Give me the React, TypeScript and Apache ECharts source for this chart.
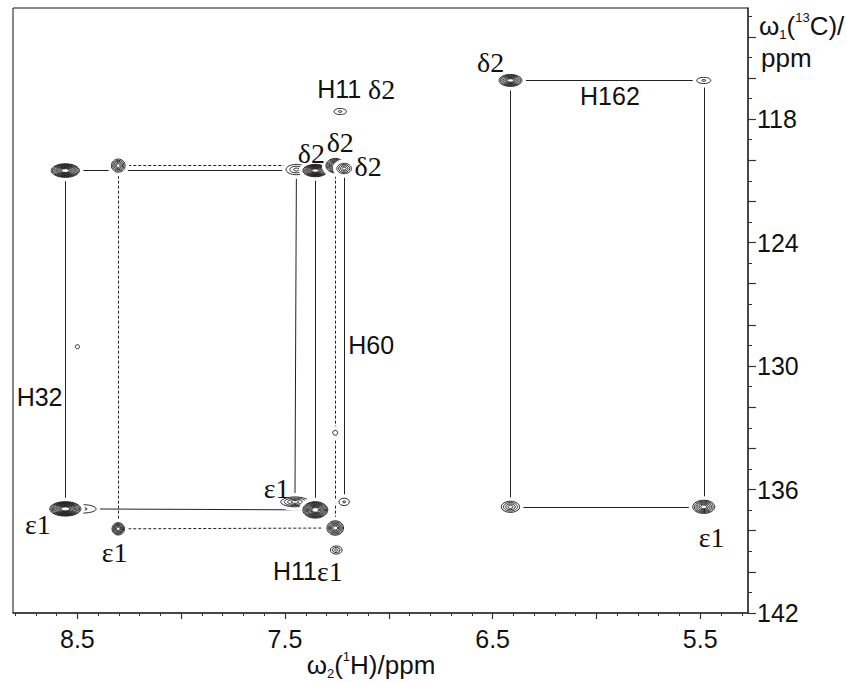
import React, { useEffect, useRef } from "react";
import * as echarts from "echarts";

// ---- Peak data (ppm) ----
const peakH = [8.558, 8.47, 8.558, 8.303, 8.303, 7.445, 7.354, 7.258, 7.215, 7.234, 7.452, 7.354, 7.215, 7.258, 7.253, 7.258, 8.5, 6.414, 5.483, 6.414, 5.483];
const peakC = [120.5, 136.94, 136.94, 120.26, 137.91, 120.45, 120.5, 120.26, 120.4, 117.63, 136.6, 136.99, 136.6, 137.87, 138.94, 133.24, 129.06, 116.12, 116.12, 136.84, 136.84];
const peakLevels = [9, 2, 10, 5, 6, 3, 9, 7, 4, 2, 4, 9, 2, 6, 3, 1, 1, 7, 2, 4, 6];
const peakWidthH = [0.068, 0.06, 0.075, 0.033, 0.03, 0.05, 0.06, 0.045, 0.035, 0.03, 0.068, 0.06, 0.025, 0.04, 0.028, 0.012, 0.01, 0.055, 0.034, 0.044, 0.053];
const peakWidthC = [0.33, 0.2, 0.35, 0.32, 0.3, 0.25, 0.3, 0.35, 0.25, 0.15, 0.24, 0.4, 0.18, 0.35, 0.2, 0.12, 0.1, 0.29, 0.15, 0.27, 0.32];

// links between peaks (indices)
const solidLinks = [[0, 2], [0, 6], [2, 11], [5, 10], [6, 11], [8, 12], [17, 18], [19, 20], [17, 19], [18, 20]];
const dashedLinks = [[3, 7], [4, 13], [3, 4], [7, 13]];

// ---- Annotation labels ----
const labelText = ["δ2", "H162", "H11 δ2", "δ2", "δ2", "δ2", "H60", "H32", "ε1", "ε1", "ε1", "H11ε1", "ε1"];
const labelH = [6.51, 5.935, 7.157, 7.373, 7.234, 7.1, 7.085, 8.682, 8.69, 8.32, 7.54, 7.39, 5.445];
const labelC = [115.25, 116.9, 116.55, 119.65, 119.15, 120.3, 128.98, 131.5, 137.7, 139.05, 135.95, 139.98, 138.35];

// ---- Axis ticks ----
const xMajorTicks = [5.5, 6.0, 6.5, 7.0, 7.5, 8.0, 8.5];
const xLabelTicks = [5.5, 6.5, 7.5, 8.5];
const yMajorTicks = [114, 116, 118, 120, 122, 124, 126, 128, 130, 132, 134, 136, 138, 140, 142];
const yLabelTicks = [118, 124, 130, 136, 142];

const X_MIN = 5.27;
const X_MAX = 8.81;
const Y_MIN = 112.6;
const Y_MAX = 142;

const SANS = "Liberation Sans";
const SERIF = "Liberation Serif";

function minorTicks(min: number, max: number, step: number, skip: number[]) {
  const out: number[] = [];
  const start = Math.ceil(min / step - 1e-9);
  const end = Math.floor(max / step + 1e-9);
  for (let k = start; k <= end; k++) {
    const v = Math.round(k * step * 1000) / 1000;
    if (!skip.some((s) => Math.abs(s - v) < 1e-6)) out.push(v);
  }
  return out;
}

function richLabel(t: string) {
  const m = t.match(/^(H\d+)(\s*)([δε]\d)$/);
  if (m) return `{s|${m[1]}}${m[2] ? "{s| }" : ""}{g|${m[3]}}`;
  if (/^[δε]/.test(t)) return `{g|${t}}`;
  return `{s|${t}}`;
}

const titleRich = {
  a: { fontFamily: SANS, fontSize: 26, fill: "#111", verticalAlign: "middle", lineHeight: 30 },
  sub: { fontFamily: SANS, fontSize: 13, fill: "#111", verticalAlign: "bottom", lineHeight: 30 },
  sup: { fontFamily: SANS, fontSize: 13, fill: "#111", verticalAlign: "top", lineHeight: 30 },
};

export default function App() {
  const ref = useRef<HTMLDivElement>(null);
  useEffect(() => {
    document.body.style.margin = "0";
    if (!ref.current) return;
    const chart = echarts.init(ref.current, undefined, { renderer: "svg" });

    const peakData = peakH.map((h, i) => [h, peakC[i], peakWidthH[i], peakWidthC[i], peakLevels[i]]);
    const linkData = (links: number[][]) =>
      links.map(([a, b]) => ({ coords: [[peakH[a], peakC[a]], [peakH[b], peakC[b]]] }));
    const labelData = labelH.map((h, i) => [h, labelC[i]]);

    const xMinor = minorTicks(X_MIN, X_MAX, 0.1, xMajorTicks);
    const yMinor = minorTicks(Y_MIN, Y_MAX, 1, yMajorTicks);

    const tickColor = "#333";

    chart.setOption({
      animation: false,
      backgroundColor: "#fff",
      grid: {
        left: 13,
        right: 98,
        top: 8,
        bottom: 69,
        show: true,
        borderColor: "#111",
        borderWidth: 1,
        backgroundColor: "transparent",
      },
      xAxis: [
        {
          type: "value",
          position: "bottom",
          inverse: true,
          min: X_MIN,
          max: X_MAX,
          axisLine: { show: true, lineStyle: { color: tickColor, width: 1.5 } },
          axisTick: { show: true, customValues: xMajorTicks, length: 6, lineStyle: { color: tickColor, width: 1.2 } },
          axisLabel: {
            customValues: xLabelTicks,
            formatter: (v: number) => v.toFixed(1),
            fontFamily: SANS,
            fontSize: 25,
            color: "#111",
            margin: 13,
          },
          splitLine: { show: false },
        },
        {
          type: "value",
          position: "bottom",
          offset: 0,
          inverse: true,
          min: X_MIN,
          max: X_MAX,
          axisLine: { show: false },
          axisTick: { show: true, customValues: xMinor, length: 3, lineStyle: { color: tickColor, width: 1 } },
          axisLabel: { show: false },
          splitLine: { show: false },
        },
      ],
      yAxis: [
        {
          type: "value",
          position: "right",
          inverse: true,
          min: Y_MIN,
          max: Y_MAX,
          axisLine: { show: true, lineStyle: { color: tickColor, width: 1.5 } },
          axisTick: { show: true, customValues: yMajorTicks, length: 8, lineStyle: { color: tickColor, width: 1.2 } },
          axisLabel: {
            customValues: yLabelTicks,
            fontFamily: SANS,
            fontSize: 25,
            color: "#111",
            margin: 9,
          },
          splitLine: { show: false },
        },
        {
          type: "value",
          position: "right",
          offset: 0,
          inverse: true,
          min: Y_MIN,
          max: Y_MAX,
          axisLine: { show: false },
          axisTick: { show: true, customValues: yMinor, length: 4, lineStyle: { color: tickColor, width: 1 } },
          axisLabel: { show: false },
          splitLine: { show: false },
        },
      ],
      series: [
        {
          type: "lines",
          coordinateSystem: "cartesian2d",
          xAxisIndex: 0,
          yAxisIndex: 0,
          z: 1,
          silent: true,
          lineStyle: { color: "#222", width: 1, type: "solid", opacity: 1 },
          data: linkData(solidLinks),
        },
        {
          type: "lines",
          coordinateSystem: "cartesian2d",
          xAxisIndex: 0,
          yAxisIndex: 0,
          z: 1,
          silent: true,
          lineStyle: { color: "#222", width: 1, type: [3, 2], opacity: 1 },
          data: linkData(dashedLinks),
        },
        {
          type: "custom",
          xAxisIndex: 0,
          yAxisIndex: 0,
          z: 2,
          silent: true,
          encode: { x: 0, y: 1 },
          data: peakData,
          renderItem: (params: any, api: any) => {
            const c = api.coord([api.value(0), api.value(1)]);
            const sz = api.size([api.value(2), api.value(3)]);
            const rx = Math.abs(sz[0]);
            const ry = Math.abs(sz[1]);
            const n = api.value(4);
            const children: any[] = [
              {
                type: "ellipse",
                shape: { cx: c[0], cy: c[1], rx: rx + 4, ry: ry + 4 },
                style: { fill: "#fff", stroke: null },
              },
            ];
            for (let k = 0; k < n; k++) {
              const s = n === 1 ? 1 : 0.28 + (0.72 * k) / (n - 1);
              children.push({
                type: "ellipse",
                shape: { cx: c[0], cy: c[1], rx: rx * s, ry: ry * s },
                style: { fill: "none", stroke: "#111", lineWidth: 0.9 },
              });
            }
            return { type: "group", children };
          },
        },
        {
          type: "custom",
          xAxisIndex: 0,
          yAxisIndex: 0,
          z: 3,
          silent: true,
          encode: { x: 0, y: 1 },
          data: labelData,
          renderItem: (params: any, api: any) => {
            const c = api.coord([api.value(0), api.value(1)]);
            const t = labelText[params.dataIndex];
            return {
              type: "text",
              x: c[0],
              y: c[1],
              style: {
                text: richLabel(t),
                align: "center",
                verticalAlign: "middle",
                fill: "#111",
                rich: {
                  s: { fontFamily: SANS, fontSize: 25, fill: "#111" },
                  g: { fontFamily: SERIF, fontSize: 28, fill: "#111" },
                },
              },
            };
          },
        },
      ],
      graphic: [
        {
          type: "text",
          x: 759,
          y: 26,
          style: {
            text: "{a|ω}{sub|1}{a|(}{sup|13}{a|C)/}",
            align: "left",
            verticalAlign: "middle",
            rich: titleRich,
          },
        },
        {
          type: "text",
          x: 761,
          y: 58,
          style: { text: "ppm", fontFamily: SANS, fontSize: 26, fill: "#111", align: "left", verticalAlign: "middle" },
        },
        {
          type: "text",
          x: 371,
          y: 665,
          style: {
            text: "{a|ω}{sub|2}{a|(}{sup|1}{a|H)/ppm}",
            align: "center",
            verticalAlign: "middle",
            rich: titleRich,
          },
        },
      ],
    });
    return () => chart.dispose();
  }, []);
  return <div ref={ref} style={{ width: 846, height: 682 }} />;
}
